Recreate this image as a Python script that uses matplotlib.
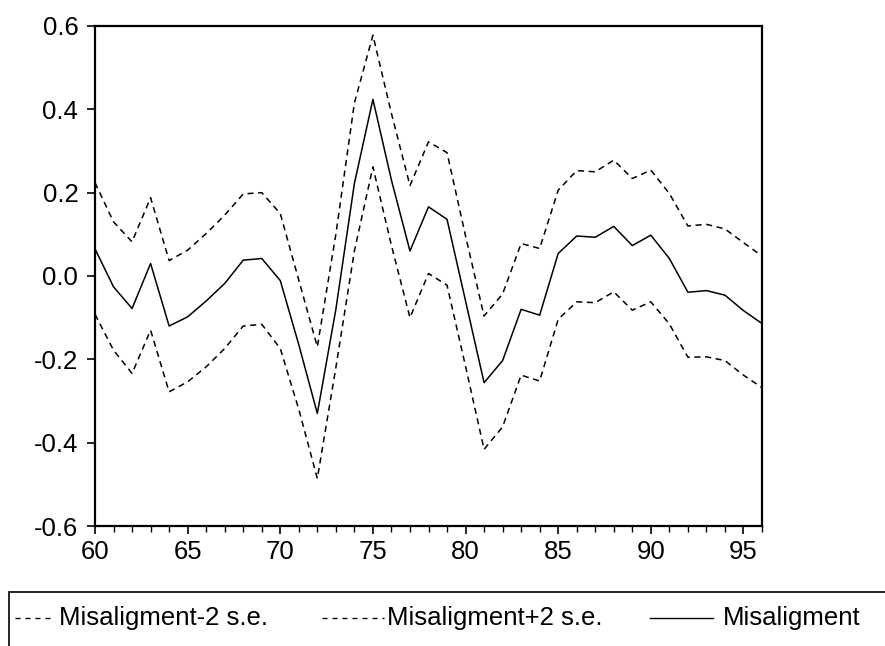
import matplotlib
matplotlib.use("Agg")
import matplotlib.pyplot as plt
from matplotlib.lines import Line2D
from matplotlib.patches import Rectangle
from matplotlib.ticker import MultipleLocator

plt.rcParams["font.family"] = ["Liberation Sans", "DejaVu Sans"]

years = list(range(60, 97))

misalignment = [0.065, -0.026, -0.078, 0.030, -0.120, -0.098, -0.060, -0.018, 0.038, 0.042,
                -0.011, -0.165, -0.330, -0.080, 0.222, 0.424, 0.230, 0.060, 0.166, 0.136,
                -0.060, -0.256, -0.203, -0.080, -0.094, 0.054, 0.096, 0.093, 0.119, 0.073,
                0.098, 0.042, -0.039, -0.035, -0.046, -0.083, -0.114]

upper = [0.224, 0.130, 0.082, 0.188, 0.037, 0.062, 0.102, 0.146, 0.197, 0.200,
         0.150, -0.010, -0.170, 0.100, 0.415, 0.578, 0.390, 0.217, 0.322, 0.296,
         0.096, -0.096, -0.043, 0.078, 0.066, 0.206, 0.253, 0.250, 0.278, 0.234,
         0.254, 0.198, 0.120, 0.124, 0.113, 0.080, 0.048]

lower = [-0.092, -0.178, -0.234, -0.130, -0.278, -0.254, -0.218, -0.174, -0.120, -0.116,
         -0.174, -0.320, -0.486, -0.220, 0.060, 0.262, 0.073, -0.100, 0.006, -0.022,
         -0.217, -0.416, -0.362, -0.238, -0.252, -0.104, -0.062, -0.064, -0.038, -0.082,
         -0.062, -0.115, -0.195, -0.194, -0.203, -0.238, -0.268]

labels = ["Misaligment-2 s.e.", "Misaligment+2 s.e.", "Misaligment"]

W, H = 885, 646
FS = 18.5
fig = plt.figure(figsize=(W / 100, H / 100), dpi=100)
ax = fig.add_axes([95 / W, 1 - 526 / H, (762 - 95) / W, (526 - 26) / H])

ax.plot(years, lower, color="black", lw=1.1, dashes=(4, 3))
ax.plot(years, upper, color="black", lw=1.1, dashes=(4, 3))
ax.plot(years, misalignment, color="black", lw=1.1)

ax.set_xlim(60, 96)
ax.set_ylim(-0.6, 0.6)
ax.xaxis.set_major_locator(MultipleLocator(5))
ax.xaxis.set_minor_locator(MultipleLocator(1))
ax.yaxis.set_major_locator(MultipleLocator(0.2))
ax.yaxis.set_major_formatter(lambda v, p: f"{v:.1f}")

for s in ax.spines.values():
    s.set_linewidth(1.6)
ax.tick_params(axis="both", which="major", direction="out", length=6, width=1.2,
               labelsize=FS, pad=4)
ax.tick_params(axis="x", which="minor", direction="out", length=4, width=1.0)
ax.tick_params(axis="y", pad=6)

# legend box (runs off the bottom/right edge like the original)
fig.add_artist(Rectangle((9 / W, -0.05), 1.0, (1 - 592 / H) + 0.05,
                         transform=fig.transFigure, fill=False,
                         edgecolor="black", lw=1.2))
y_leg = 1 - 618 / H
handles = [(15, 50, (3.6, 3.6)), (322, 384, (3.6, 3.6)), (650, 713, None)]
text_x = [59, 387, 723]
for (x0, x1, dash), tx, lab in zip(handles, text_x, labels):
    ln = Line2D([x0 / W, x1 / W], [y_leg, y_leg], transform=fig.transFigure,
                color="black", lw=1.0)
    if dash:
        ln.set_dashes(dash)
    fig.add_artist(ln)
    fig.text(tx / W, y_leg, lab, fontsize=FS, va="center", ha="left")

fig.savefig("out.png", dpi=100)
